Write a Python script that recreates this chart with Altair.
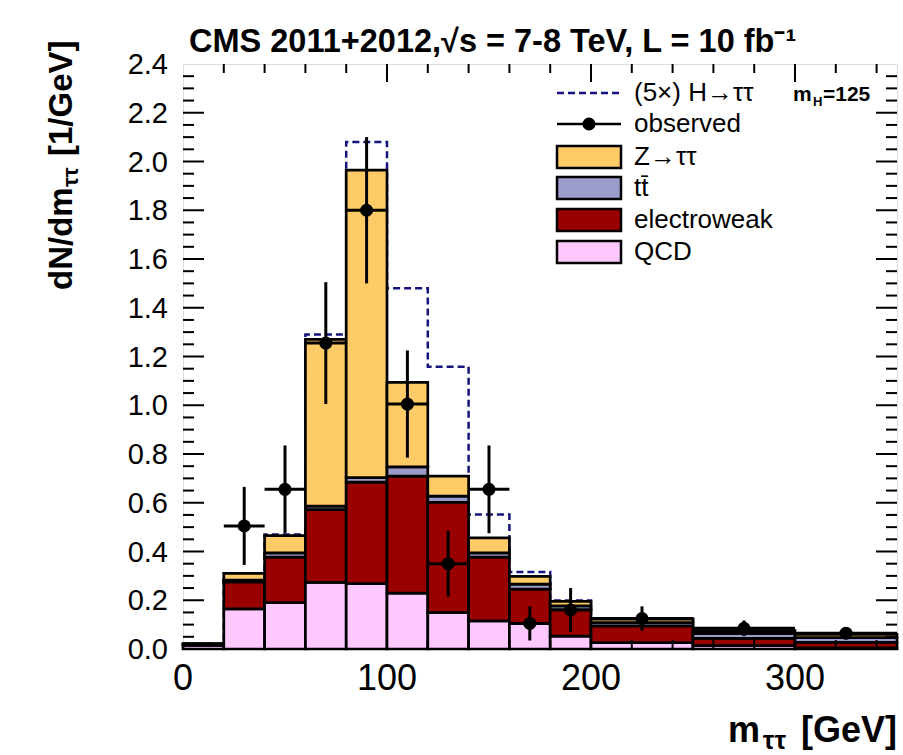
import altair as alt
import pandas as pd

FONT = "Liberation Sans"

# ---- histogram bins (GeV) ----
bin_lo = [0, 20, 40, 60, 80, 100, 120, 140, 160, 180, 200, 250, 300]
bin_hi = [20, 40, 60, 80, 100, 120, 140, 160, 180, 200, 250, 300, 350]

# ---- stacked backgrounds (dN/dm, 1/GeV) ----
qcd   = [0.015, 0.165, 0.190, 0.273, 0.268, 0.229, 0.149, 0.115, 0.105, 0.053, 0.026, 0.014, 0.005]
ewk   = [0.005, 0.110, 0.187, 0.299, 0.417, 0.480, 0.453, 0.262, 0.141, 0.108, 0.069, 0.030, 0.022]
ttbar = [0.000, 0.008, 0.017, 0.014, 0.018, 0.038, 0.025, 0.017, 0.020, 0.016, 0.013, 0.020, 0.020]
ztt   = [0.002, 0.027, 0.071, 0.684, 1.262, 0.347, 0.082, 0.062, 0.032, 0.018, 0.014, 0.011, 0.013]
# 5x Higgs (mH=125) stacked on top of the backgrounds
higgs5 = [0.000, 0.000, 0.005, 0.020, 0.115, 0.386, 0.449, 0.096, 0.018, 0.004, 0.003, 0.000, 0.000]

# ---- observed data ----
obs_x    = [30, 50, 70, 90, 110, 130, 150, 170, 190, 225, 275, 325]
obs_y    = [0.505, 0.655, 1.255, 1.800, 1.005, 0.350, 0.655, 0.105, 0.160, 0.125, 0.085, 0.065]
obs_err  = [0.160, 0.180, 0.250, 0.300, 0.220, 0.135, 0.180, 0.070, 0.090, 0.050, 0.032, 0.025]
obs_xerr = [10, 10, 10, 10, 10, 10, 10, 10, 10, 25, 25, 25]

comp_names  = ["QCD", "electroweak", "ttbar", "Ztt"]
comp_colors = ["#FFC9FF", "#990000", "#9C9CCC", "#FFCB66"]
legend_labels = ["(5×) H→ττ", "observed", "Z→ττ", "tt̄", "electroweak", "QCD"]
legend_fill   = [None, None, "#FFCB66", "#9C9CCC", "#990000", "#FFC9FF"]

y_labels = [round(0.2 * i, 1) for i in range(13)]
x_labels = [0, 100, 200, 300]
y_minor = [round(0.05 * i, 2) for i in range(1, 48) if i % 4 != 0]
y_major = [round(0.2 * i, 1) for i in range(1, 12)]
x_minor = [v for v in range(20, 350, 20) if v % 100 != 0]
x_major = [100, 200, 300]

W, H = 714, 585

# ---- tables ----
rows = []
for i in range(len(bin_lo)):
    base = 0.0
    for name, arr in zip(comp_names, [qcd, ewk, ttbar, ztt]):
        rows.append({"lo": bin_lo[i], "hi": bin_hi[i], "y0": base, "y1": base + arr[i], "comp": name})
        base += arr[i]
hist = pd.DataFrame(rows)

hrows = []
k = 0
for i in range(len(bin_lo)):
    tot = qcd[i] + ewk[i] + ttbar[i] + ztt[i] + higgs5[i]
    hrows.append({"x": bin_lo[i], "y": tot, "o": k}); k += 1
    hrows.append({"x": bin_hi[i], "y": tot, "o": k}); k += 1
hline = pd.DataFrame(hrows)

obs = pd.DataFrame({
    "x": obs_x, "y": obs_y,
    "ylo": [a - b for a, b in zip(obs_y, obs_err)],
    "yhi": [a + b for a, b in zip(obs_y, obs_err)],
    "xlo": [a - b for a, b in zip(obs_x, obs_xerr)],
    "xhi": [a + b for a, b in zip(obs_x, obs_xerr)],
})

xscale = alt.Scale(domain=[0, 350], nice=False, zero=False)
yscale = alt.Scale(domain=[0, 2.4], nice=False, zero=False)

one = pd.DataFrame({"k": [0]})

h_layer = alt.Chart(hline).mark_line(color="#14147F", strokeWidth=2.5, strokeDash=[7, 4]).encode(
    x=alt.X("x:Q", scale=xscale, axis=None),
    y=alt.Y("y:Q", scale=yscale, axis=None),
    order="o:Q",
)

hist_layer = alt.Chart(hist).mark_rect(stroke="black", strokeWidth=2.7).encode(
    x=alt.X("lo:Q", scale=xscale, axis=None),
    x2="hi:Q",
    y=alt.Y("y0:Q", scale=yscale, axis=None),
    y2="y1:Q",
    color=alt.Color("comp:N", scale=alt.Scale(domain=comp_names, range=comp_colors), legend=None),
)

err_v = alt.Chart(obs).mark_rule(color="black", strokeWidth=3).encode(
    x=alt.X("x:Q", scale=xscale, axis=None),
    y=alt.Y("ylo:Q", scale=yscale, axis=None), y2="yhi:Q")
err_h = alt.Chart(obs).mark_rule(color="black", strokeWidth=3).encode(
    x=alt.X("xlo:Q", scale=xscale, axis=None), x2="xhi:Q",
    y=alt.Y("y:Q", scale=yscale, axis=None))
pts = alt.Chart(obs).mark_circle(color="black", opacity=1, size=170).encode(
    x=alt.X("x:Q", scale=xscale, axis=None),
    y=alt.Y("y:Q", scale=yscale, axis=None))

# ---- inward ticks (ROOT style) ----
def yticks(vals, length):
    df = pd.DataFrame({"v": vals})
    left = alt.Chart(df).mark_rule(color="black", strokeWidth=2).encode(
        y=alt.Y("v:Q", scale=yscale, axis=None), x=alt.value(0), x2=alt.value(length))
    right = alt.Chart(df).mark_rule(color="black", strokeWidth=2).encode(
        y=alt.Y("v:Q", scale=yscale, axis=None), x=alt.value(W), x2=alt.value(W - length))
    return [left, right]

def xticks(vals, length):
    df = pd.DataFrame({"v": vals})
    bot = alt.Chart(df).mark_rule(color="black", strokeWidth=2).encode(
        x=alt.X("v:Q", scale=xscale, axis=None), y=alt.value(H), y2=alt.value(H - length))
    top = alt.Chart(df).mark_rule(color="black", strokeWidth=2).encode(
        x=alt.X("v:Q", scale=xscale, axis=None), y=alt.value(0), y2=alt.value(length))
    return [bot, top]

ticks = yticks(y_major, 21) + yticks(y_minor, 11) + xticks(x_major, 18) + xticks(x_minor, 9)

# ---- tick labels (through the scales) ----
ylab_df = pd.DataFrame({"v": y_labels, "t": [f"{v:.1f}" for v in y_labels]})
xlab_df = pd.DataFrame({"v": x_labels, "t": [str(v) for v in x_labels]})
ylab = alt.Chart(ylab_df).mark_text(font=FONT, fontSize=29, align="right", baseline="alphabetic",
                                     dy=10, color="black").encode(
    y=alt.Y("v:Q", scale=yscale, axis=None), x=alt.value(-15), text="t:N")
xlab = alt.Chart(xlab_df).mark_text(font=FONT, fontSize=36, align="center", baseline="alphabetic",
                                     color="black").encode(
    x=alt.X("v:Q", scale=xscale, axis=None), y=alt.value(H + 41), text="t:N")

# ---- text helpers ----
def txt(s, x, y, size, bold=True, align="left", angle=0, baseline="alphabetic"):
    kw = dict(text=s, font=FONT, fontSize=size, fontWeight="bold" if bold else "normal",
              align=align, baseline=baseline, color="black")
    if angle:
        kw["angle"] = angle
    return alt.Chart(one).mark_text(**kw).encode(x=alt.value(x), y=alt.value(y))

texts = [
    txt("CMS 2011+2012,√s = 7-8 TeV, L = 10 fb⁻¹", 6, -12, 32.5),
    # x title
    txt("[GeV]", 714, 678, 36, align="right"),
    txt("ττ", 603, 685, 26, align="right"),
    txt("m", 577, 678, 36, align="right"),
    # y title (rotated)
    txt("dN/dm", -111, 226, 33, align="left", angle=270),
    txt("ττ", -105, 123, 22, align="left", angle=270),
    txt("[1/GeV]", -111, 92, 33, align="left", angle=270),
]

# ---- legend ----
LX0, LX1, LT = 374, 438, 451
ly = [29, 60, 93, 124, 156, 188]
leg = []
leg.append(alt.Chart(one).mark_rule(color="#14147F", strokeWidth=2.5, strokeDash=[7, 4]).encode(
    x=alt.value(LX0), x2=alt.value(LX1), y=alt.value(ly[0])))
leg.append(alt.Chart(one).mark_rule(color="black", strokeWidth=2.5).encode(
    x=alt.value(LX0), x2=alt.value(LX1), y=alt.value(ly[1])))
leg.append(alt.Chart(one).mark_circle(color="black", opacity=1, size=170).encode(
    x=alt.value((LX0 + LX1) / 2), y=alt.value(ly[1])))
for i in range(2, 6):
    leg.append(alt.Chart(one).mark_rect(fill=legend_fill[i], stroke="black", strokeWidth=2.5).encode(
        x=alt.value(LX0), x2=alt.value(LX1), y=alt.value(ly[i] - 11), y2=alt.value(ly[i] + 11)))
for i, lab in enumerate(legend_labels):
    leg.append(txt(lab, LT, ly[i], 26, bold=False, baseline="middle"))
leg.append(txt("m", 610, 37, 21))
leg.append(txt("H", 630, 42, 13))
leg.append(txt("=125", 640, 37, 21))

chart = alt.layer(h_layer, hist_layer, err_v, err_h, pts, *ticks, ylab, xlab, *leg, *texts).properties(
    width=W, height=H,
    padding={"left": 183, "top": 64, "right": 6, "bottom": 106},
    autosize=alt.AutoSizeParams(type="none"),
).configure_view(stroke="black", strokeWidth=3).configure(background="white")

chart.save("out.html", embed_options={"renderer": "svg", "actions": False})
